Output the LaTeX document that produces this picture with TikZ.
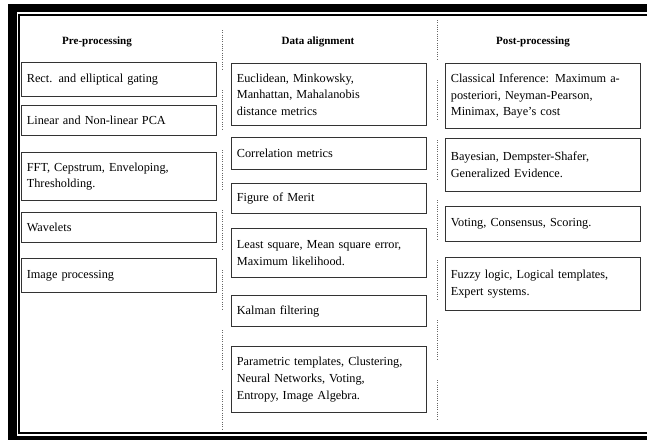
\documentclass[tikz,border=0pt]{standalone}
\usepackage{fontspec}
\setmainfont{Liberation Serif}

\tikzstyle{box} = [draw=black!80,line width=0.8pt,anchor=north west,align=left,
  text width=138pt,inner xsep=4pt,inner ysep=1pt,font=\fontsize{9.2}{12.5}\selectfont]
\tikzstyle{header} = [font=\fontsize{8.3}{10}\selectfont\bfseries]
\tikzstyle{frame} = [fill=black]
\tikzstyle{separator} = [draw=black!60,densely dotted,line width=0.7pt]

\begin{document}
\begin{tikzpicture}[x=0.75pt,y=-0.75pt]
     \useasboundingbox (0,0) rectangle (647,440);
     % First the outer frame
     \fill[frame] (8,4) rectangle (17,440);
     \fill[frame] (8,4) rectangle (647,12);
     \fill[frame] (8,436) rectangle (647,440);
     \draw[line width=0.8pt] (647,15) -- (19,15) -- (19,433) -- (647,433);

     % Column separators
     \foreach \y in {30,90,...,390}
     \path[separator] (222,\y) -- (222,\y+40);
     \foreach \y in {20,80,...,380}
     \path[separator] (437,\y) -- (437,\y+40);

     % Column headers
     \foreach \pos/\name/\txt in {{(97,42)/pre/Pre-processing},
       {(318,42)/align/Data alignment}, {(533,42)/post/Post-processing}}
     \node[header] (\name) at \pos {\txt};

     % Then the boxes of each column
     \foreach \pos/\h/\name/\txt in {{(21,62)/34/rect/Rect. and elliptical gating},
       {(21,105)/30/pca/Linear and Non-linear PCA},
       {(21,152)/48/fft/{FFT, Cepstrum, Enveloping,\\Thresholding.}},
       {(21,212)/30/wav/Wavelets},
       {(21,258)/34/img/Image processing}}
     \node[box,minimum height=\h*0.75pt] (\name) at \pos {\txt};

     \foreach \pos/\h/\name/\txt in {{(231,63)/62/eucl/{Euclidean, Minkowsky,\\Manhattan, Mahalanobis\\distance metrics}},
       {(231,137)/32/corr/Correlation metrics},
       {(231,183)/30/fom/Figure of Merit},
       {(231,228)/49/lsq/{Least square, Mean square error,\\Maximum likelihood.}},
       {(231,295)/31/kal/Kalman filtering},
       {(231,346)/66/par/{Parametric templates, Clustering,\\Neural Networks, Voting,\\Entropy, Image Algebra.}}}
     \node[box,minimum height=\h*0.75pt] (\name) at \pos {\txt};

     \foreach \pos/\h/\name/\txt in {{(445,63)/65/cls/{Classical Inference: Maximum a-\\posteriori, Neyman-Pearson,\\Minimax, Baye's cost}},
       {(445,138)/53/bay/{Bayesian, Dempster-Shafer,\\Generalized Evidence.}},
       {(445,206)/35/vot/{Voting, Consensus, Scoring.}},
       {(445,257)/53/fuz/{Fuzzy logic, Logical templates,\\Expert systems.}}}
     \node[box,minimum height=\h*0.75pt] (\name) at \pos {\txt};
   \end{tikzpicture}
\end{document}
